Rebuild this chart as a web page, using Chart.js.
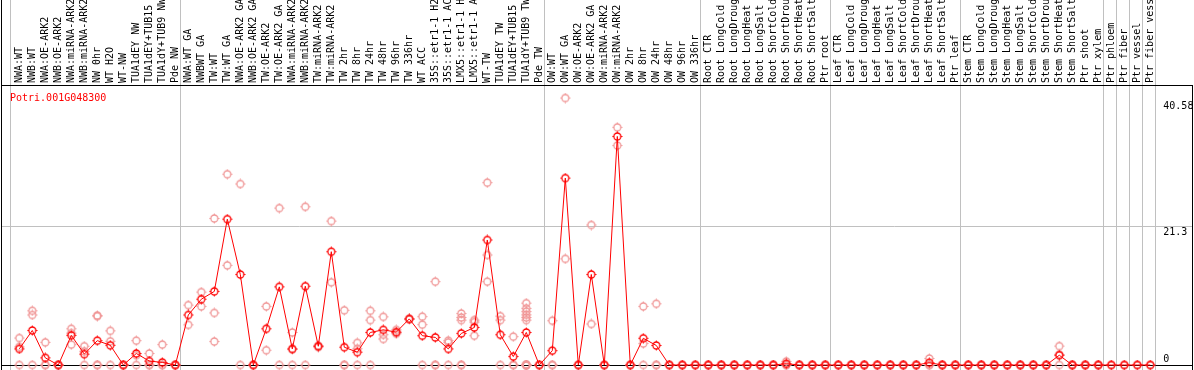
<!DOCTYPE html>
<html>
<head>
<meta charset="utf-8">
<script src="https://cdn.jsdelivr.net/npm/chart.js@4/dist/chart.umd.min.js"></script>
<style>
  html, body { margin: 0; padding: 0; background: #fff; }
  #wrap { width: 1194px; height: 370px; position: relative; }
</style>
</head>
<body>
<div id="wrap"><canvas id="c" width="1194" height="370"></canvas></div>
<script>
const geneId = 'Potri.001G048300';

const categories = [
  'NWA:WT','NWB:WT','NWA:OE-ARK2','NWB:OE-ARK2','NWA:miRNA-ARK2','NWB:miRNA-ARK2','NW 0hr','WT H2O','WT-NW','TUA1dEY NW','TUA1dEY+TUB15','TUA1dY+TUB9 NW','Pde NW',
  'NWA:WT GA','NWBWT GA','TW:WT','TW:WT GA','NWA:OE-ARK2 GA','NWB:OE-ARK2 GA','TW:OE-ARK2','TW:OE-ARK2 GA','NWA:miRNA-ARK2','NWB:miRNA-ARK2','TW:miRNA-ARK2','TW:miRNA-ARK2','TW 2hr','TW 8hr','TW 24hr','TW 48hr','TW 96hr','TW 336hr','WT ACC','35S::etr1-1 H2','35S::etr1-1 AC','LMX5::etr1-1 H','LMX5::etr1-1 A','WT-TW','TUA1dEY TW','TUA1dEY+TUB15','TUA1dY+TUB9 TW','Pde TW',
  'OW:WT','OW:WT GA','OW:OE-ARK2','OW:OE-ARK2 GA','OW:miRNA-ARK2','OW:miRNA-ARK2','OW 2hr','OW 8hr','OW 24hr','OW 48hr','OW 96hr','OW 336hr',
  'Root CTR','Root LongCold','Root LongDroug','Root LongHeat','Root LongSalt','Root ShortCold','Root ShortDrou','Root ShortHeat','Root ShortSalt','Ptr root',
  'Leaf CTR','Leaf LongCold','Leaf LongDroug','Leaf LongHeat','Leaf LongSalt','Leaf ShortCold','Leaf ShortDrou','Leaf ShortHeat','Leaf ShortSalt','Ptr leaf',
  'Stem CTR','Stem LongCold','Stem LongDroug','Stem LongHeat','Stem LongSalt','Stem ShortCold','Stem ShortDrou','Stem ShortHeat','Stem ShortSalt','Ptr shoot','Ptr xylem',
  'Ptr phloem','Ptr fiber','Ptr vessel','Ptr fiber vess'
];

const groupStarts = [0, 13, 41, 53, 63, 73, 84, 85, 86, 87];

const meanValues = [
  2.47, 5.3, 1.1, 0, 4.55, 1.67, 3.74, 3.03, 0, 1.77, 0.6, 0.4, 0,
  7.68, 10.1, 11.3, 22.4, 13.9, 0, 5.56, 12.0, 2.47, 12.1, 2.88, 17.4, 2.73, 1.97, 5.0, 5.4, 5.05, 7.08, 4.5, 4.24, 2.47, 4.85, 5.76, 19.2, 4.65, 1.3, 5.0, 0,
  2.2, 28.7, 0, 13.9, 0, 35.1, 0, 4.1, 3.0, 0, 0, 0,
  0, 0, 0, 0, 0, 0, 0.2, 0, 0, 0,
  0, 0, 0, 0, 0, 0, 0, 0.35, 0, 0,
  0, 0, 0, 0, 0, 0, 0, 1.5, 0, 0, 0,
  0, 0, 0, 0
];

const replicateValues = [
  [4.14, 2.78, 0], [8.33, 7.68, 0], [3.48, 0, 0], [0, 0, 0], [5.56, 3.13, 4.9], [2.88, 2.1, 0], [7.6, 7.5, 0, 0], [5.25, 3.64, 0], [0, 0, 0], [3.74, 1.5, 0], [1.77, 0, 0], [3.13, 0, 0], [0, 0, 0],
  [9.2, 6.17], [11.2, 9.0], [22.5, 8.0, 3.6], [29.3, 15.3], [27.8, 0], [0, 0], [9.0, 2.27], [24.1, 0], [5.0, 2.4, 0], [24.3, 0], [2.95, 2.75], [22.1, 12.7], [8.4, 0, 0], [3.4, 2.5, 0], [8.33, 6.9, 0], [7.4, 4.65, 4.0], [5.4, 5.0, 4.8], [7.1, 7.0], [7.42, 6.2, 0], [12.8, 0, 0], [3.74, 3.48, 0], [7.9, 7.3, 6.9, 0, 0], [6.9, 6.6, 4.5], [28.0, 16.9, 12.8], [7.5, 6.9, 0], [4.35, 0, 0], [9.5, 8.7, 8.2, 7.7, 7.3, 6.9, 0, 0, 0, 0, 0], [0, 0],
  [6.8, 0, 0], [41.0, 16.3], [0, 0], [21.5, 6.3], [0, 0], [36.5, 33.7], [0, 0], [9.0, 3.3, 0], [9.4, 0, 0], [0, 0], [0, 0], [0, 0],
  [0, 0, 0], [0, 0, 0], [0, 0, 0], [0, 0, 0], [0, 0, 0], [0, 0, 0], [0.55, 0, 0], [0, 0, 0], [0, 0, 0], [0, 0, 0],
  [0, 0, 0], [0, 0, 0], [0, 0, 0], [0, 0, 0], [0, 0, 0], [0, 0, 0], [0, 0, 0], [1.0, 0, 0], [0, 0, 0], [0, 0, 0],
  [0, 0, 0], [0, 0, 0], [0, 0, 0], [0, 0, 0], [0, 0, 0], [0, 0, 0], [0, 0, 0], [2.9, 1.6, 0], [0, 0, 0], [0, 0, 0], [0, 0, 0],
  [0], [0], [0], [0]
];

const yTickValues = [0, 21.3, 40.58];
const yMax = 43.0;

const MEAN_COLOR = '#ff0000';
const REP_COLOR = '#f09696';
const GRID_COLOR = '#c0c0c0';
const FONT = '10px "DejaVu Sans Mono", "Liberation Mono", monospace';

function makeMarker(color) {
  const c = document.createElement('canvas');
  c.width = 11; c.height = 11;
  const g = c.getContext('2d');
  g.strokeStyle = color;
  g.lineWidth = 1.3;
  g.beginPath(); g.arc(5.5, 5.5, 3.5, 0, Math.PI * 2); g.stroke();
  g.lineWidth = 1;
  g.beginPath();
  g.moveTo(5.5, 0.5); g.lineTo(5.5, 2);
  g.moveTo(5.5, 9); g.lineTo(5.5, 10.5);
  g.moveTo(0.5, 5.5); g.lineTo(2, 5.5);
  g.moveTo(9, 5.5); g.lineTo(10.5, 5.5);
  g.stroke();
  return c;
}
const meanMarker = makeMarker(MEAN_COLOR);
const repMarker = makeMarker(REP_COLOR);

const maxReps = Math.max(...replicateValues.map(r => r.length));
const repDatasets = [];
for (let k = 0; k < maxReps; k++) {
  repDatasets.push({
    type: 'line',
    data: replicateValues.map(r => (k < r.length ? r[k] : null)),
    showLine: false,
    pointStyle: repMarker,
    pointRadius: 4,
    pointHoverRadius: 4,
    borderColor: REP_COLOR,
    backgroundColor: REP_COLOR,
    clip: false
  });
}

const decor = {
  id: 'decor',
  beforeDatasetsDraw(chart) {
    const ctx = chart.ctx;
    const xs = chart.scales.x, ys = chart.scales.y, ca = chart.chartArea;
    const W = chart.width, H = chart.height;
    const rightFrame = W - 1.5;
    ctx.save();
    ctx.lineWidth = 1;
    ctx.strokeStyle = GRID_COLOR;
    ctx.beginPath();
    groupStarts.forEach((s, j) => {
      const x = Math.floor(xs.getPixelForValue(s) - (j === 0 ? 9 : 8)) + 0.5;
      ctx.moveTo(x, 0); ctx.lineTo(x, H);
    });
    const xe = Math.floor(xs.getPixelForValue(categories.length - 1) + 5) + 0.5;
    ctx.moveTo(xe, 0); ctx.lineTo(xe, H);
    yTickValues.slice(1, -1).forEach(v => {
      const y = Math.floor(ys.getPixelForValue(v)) + 0.5;
      ctx.moveTo(1.5, y); ctx.lineTo(rightFrame, y);
    });
    ctx.stroke();
    ctx.strokeStyle = '#000';
    ctx.beginPath();
    ctx.moveTo(1.5, 0); ctx.lineTo(1.5, H);
    ctx.moveTo(1, ca.top + 0.5); ctx.lineTo(rightFrame + 0.5, ca.top + 0.5);
    ctx.moveTo(rightFrame, ca.top); ctx.lineTo(rightFrame, H);
    ctx.moveTo(1, ca.bottom + 0.5); ctx.lineTo(rightFrame + 0.5, ca.bottom + 0.5);
    ctx.stroke();
    ctx.font = FONT;
    ctx.fillStyle = MEAN_COLOR;
    ctx.textAlign = 'left';
    ctx.textBaseline = 'alphabetic';
    ctx.fillText(geneId, 10, ca.top + 16);
    ctx.fillStyle = '#000';
    yTickValues.forEach(v => {
      const y = ys.getPixelForValue(v);
      const base = (v === 0) ? y - 3 : y + 8.5;
      ctx.fillText(String(v), ca.right + 6.5, base);
    });
    ctx.restore();
  }
};

new Chart(document.getElementById('c'), {
  type: 'line',
  data: {
    labels: categories,
    datasets: [{
      data: meanValues,
      borderColor: MEAN_COLOR,
      backgroundColor: MEAN_COLOR,
      borderWidth: 1,
      tension: 0,
      pointStyle: meanMarker,
      pointRadius: 4,
      pointHoverRadius: 4,
      clip: false
    }, ...repDatasets]
  },
  options: {
    responsive: false,
    animation: false,
    events: [],
    layout: { padding: { left: 12.8, right: 0, top: 0, bottom: 1 } },
    plugins: { legend: { display: false }, tooltip: { enabled: false }, title: { display: false } },
    scales: {
      x: {
        type: 'category',
        position: 'top',
        offset: true,
        grid: { display: false, drawTicks: false, drawOnChartArea: false },
        border: { display: false },
        ticks: {
          autoSkip: false,
          minRotation: 90,
          maxRotation: 90,
          padding: 2,
          labelOffset: 12.5,
          color: '#000',
          font: { family: '"DejaVu Sans Mono", "Liberation Mono", monospace', size: 10 }
        },
        afterFit(scale) { scale.height = 85; }
      },
      y: {
        position: 'right',
        min: 0,
        max: yMax,
        grid: { display: false, drawTicks: false },
        border: { display: false },
        ticks: { display: false },
        afterBuildTicks(scale) { scale.ticks = yTickValues.map(v => ({ value: v })); },
        afterFit(scale) { scale.width = 37.2; }
      }
    }
  },
  plugins: [decor]
});
</script>
</body>
</html>
